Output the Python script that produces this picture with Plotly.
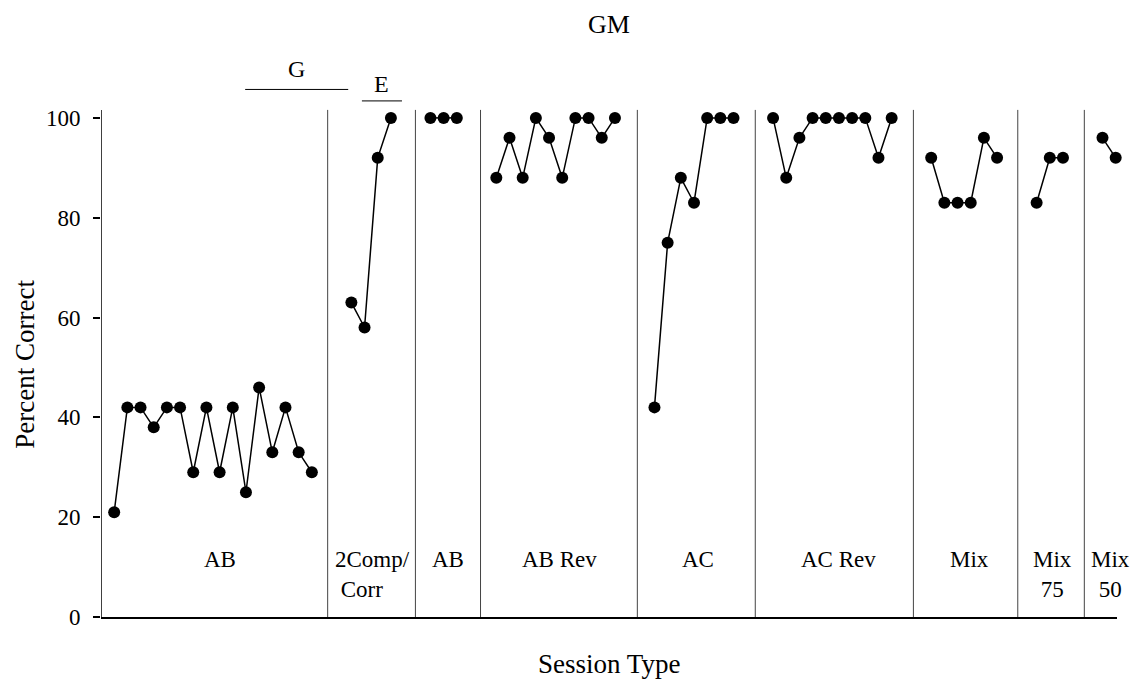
import plotly.graph_objects as go

# ---------------- data ----------------
phase_names = ["AB", "2Comp/<br>&nbsp;Corr", "AB", "AB Rev", "AC", "AC Rev", "Mix", "Mix<br>75", "Mix<br>50"]
phase_sessions = [
    list(range(1, 17)),
    [19, 20, 21, 22],
    [25, 26, 27],
    list(range(30, 40)),
    list(range(42, 49)),
    list(range(51, 61)),
    list(range(63, 69)),
    [71, 72, 73],
    [76, 77],
]
phase_values = [
    [21, 42, 42, 38, 42, 42, 29, 42, 29, 42, 25, 46, 33, 42, 33, 29],
    [63, 58, 92, 100],
    [100, 100, 100],
    [88, 96, 88, 100, 96, 88, 100, 100, 96, 100],
    [42, 75, 88, 83, 100, 100, 100],
    [100, 88, 96, 100, 100, 100, 100, 100, 92, 100],
    [92, 83, 83, 83, 96, 92],
    [83, 92, 92],
    [96, 92],
]
phase_boundaries = [17.2, 23.86, 28.8, 40.7, 49.65, 61.65, 69.57, 74.62]
y_ticks = [0, 20, 40, 60, 80, 100]

# condition bars above the chart: (label, start session, end session)
condition_bars = [("G", 10.94, 18.76), ("E", 19.8, 22.84)]

# ---------------- layout params ----------------
FONT = "Liberation Serif, Times New Roman, serif"
X_MAX = 77.1
Y_MAX = 112
AXIS_TOP = 101.6
PX_PER_UNIT = 4.995
Y0_PX = 617.5
TOP_MARGIN = Y0_PX - Y_MAX * PX_PER_UNIT
PLOT_H = Y_MAX * PX_PER_UNIT
label_x = [9.0, 17.6, 26.3, 34.8, 45.3, 56.0, 65.9, 72.2, 76.6]
label_anchor = ["center", "left", "center", "center", "center", "center", "center", "center", "center"]
bar_y = {"G": 105.7, "E": 103.4}
bar_text_y = {"G": 109.7, "E": 106.7}

xs, ys = [], []
for s, v in zip(phase_sessions, phase_values):
    xs += s + [None]
    ys += v + [None]

fig = go.Figure()
fig.add_trace(go.Scatter(
    x=xs, y=ys, mode="lines+markers",
    line=dict(color="black", width=1.5),
    marker=dict(color="black", size=12),
    connectgaps=False, showlegend=False, cliponaxis=False,
))

shapes = []
shapes.append(dict(type="line", xref="x", yref="y", x0=0, x1=0, y0=0, y1=AXIS_TOP,
                   line=dict(color="black", width=1.5)))
for b in phase_boundaries:
    shapes.append(dict(type="line", xref="x", yref="y", x0=b, x1=b, y0=0, y1=AXIS_TOP,
                       line=dict(color="#444", width=1)))

annotations = []
for name, x0, x1 in condition_bars:
    shapes.append(dict(type="line", xref="x", yref="y", x0=x0, x1=x1,
                       y0=bar_y[name], y1=bar_y[name], line=dict(color="black", width=1)))
    annotations.append(dict(x=(x0 + x1) / 2, y=bar_text_y[name], xref="x", yref="y",
                            text=name, showarrow=False, yanchor="middle",
                            font=dict(family=FONT, size=24, color="black")))

for name, lx, anc in zip(phase_names, label_x, label_anchor):
    annotations.append(dict(x=lx, y=14.5, xref="x", yref="y", text=name, showarrow=False,
                            xanchor=anc, yanchor="top", align="left" if anc == "left" else "center",
                            font=dict(family=FONT, size=23, color="black")))

annotations.append(dict(x=0.5, y=(Y0_PX - 665) / PLOT_H, xref="paper", yref="paper",
                        text="Session Type", showarrow=False, yanchor="middle",
                        font=dict(family=FONT, size=27, color="black")))
annotations.append(dict(x=-0.0748, y=(Y0_PX - 365) / PLOT_H, xref="paper", yref="paper",
                        text="Percent Correct", showarrow=False, textangle=-90,
                        xanchor="center", yanchor="middle",
                        font=dict(family=FONT, size=27, color="black")))

fig.update_layout(
    width=1137, height=688,
    margin=dict(l=101, r=20, t=TOP_MARGIN, b=688 - Y0_PX),
    paper_bgcolor="white", plot_bgcolor="white",
    title=dict(text="GM", x=0.5, xref="paper", y=1 - 24 / 688, yanchor="middle",
               font=dict(family=FONT, size=26, color="black")),
    shapes=shapes, annotations=annotations,
    font=dict(family=FONT, color="black"),
    xaxis=dict(range=[0, X_MAX], showgrid=False, zeroline=False, showticklabels=False,
               ticks="", showline=True, linecolor="black", linewidth=2),
    yaxis=dict(range=[0, Y_MAX], showgrid=False, zeroline=False, showline=False,
               tickvals=y_ticks, ticks="outside", ticklen=7, tickwidth=1.5, tickcolor="black",
               ticklabelstandoff=8,
               tickfont=dict(family=FONT, size=23, color="black")),
)

fig.write_html("out.html")
